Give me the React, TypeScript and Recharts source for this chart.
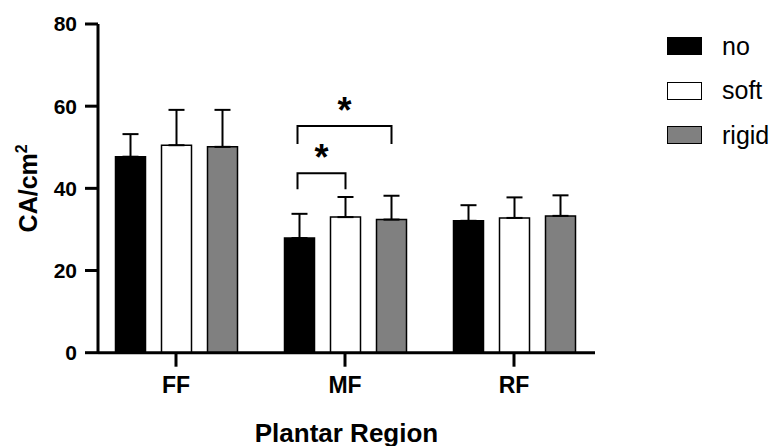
import {
  Bar,
  BarChart,
  ErrorBar,
  Label,
  LabelList,
  Legend,
  XAxis,
  YAxis,
} from 'recharts'

const regions = ['FF', 'MF', 'RF']
const noMeans = [47.7, 27.9, 32.1]
const noErrors = [5.5, 5.9, 3.8]
const softMeans = [50.5, 33.0, 32.8]
const softErrors = [8.6, 4.9, 5.0]
const rigidMeans = [50.1, 32.4, 33.3]
const rigidErrors = [9.0, 5.8, 5.0]
const yTicks = [0, 20, 40, 60, 80]

const series = [
  { key: 'no', fill: '#000000' },
  { key: 'soft', fill: '#ffffff' },
  { key: 'rigid', fill: '#808080' },
]

// significance brackets: group, the two bars joined, bar-end height and top height
const brackets = [
  { group: 'MF', from: 'no', to: 'soft', low: 39.8, high: 43.7 },
  { group: 'MF', from: 'no', to: 'rigid', low: 50.8, high: 55.2 },
]

const FONT = "Arial, 'Liberation Sans', Helvetica, sans-serif"
const BAR_SIZE = 30
const BAR_GAP = 16
const PAD = { left: -6.5, right: -3.5 }

const data = regions.map((region, i) => ({
  region,
  no: noMeans[i],
  soft: softMeans[i],
  rigid: rigidMeans[i],
  noErr: [0, noErrors[i]],
  softErr: [0, softErrors[i]],
  rigidErr: [0, rigidErrors[i]],
}))

// drawn as a label of the "no" bar: uses that bar's box for the y scale
function BracketMarks(props: any) {
  const vb = props.viewBox ?? props
  const value = Number(props.value)
  let index = props.index
  if (index == null) index = noMeans.indexOf(value)
  const mine = brackets.filter((b) => b.group === regions[index])
  if (!mine.length || !value) return null

  const unit = vb.height / value
  const base = vb.y + vb.height
  const toY = (v: number) => base - v * unit
  const cx0 = vb.x + vb.width / 2
  const toX = (key: string) => cx0 + series.findIndex((s) => s.key === key) * (BAR_SIZE + BAR_GAP)

  return (
    <g>
      {mine.map((b, i) => {
        const x1 = toX(b.from) - 2
        const x2 = toX(b.to)
        const yTop = toY(b.high)
        const yLow = toY(b.low)
        return (
          <g key={i}>
            <path
              d={`M${x1},${yLow}V${yTop}H${x2}V${yLow}`}
              fill="none"
              stroke="#000"
              strokeWidth={2}
            />
            <text
              x={(x1 + x2) / 2}
              y={toY(b.high + 5.3) + 18.5}
              textAnchor="middle"
              fontFamily={FONT}
              fontWeight="bold"
              fontSize={36}
              fill="#000"
            >
              *
            </text>
          </g>
        )
      })}
    </g>
  )
}

function YTitle(props: any) {
  const vb = props.viewBox || { x: 0, y: 24, height: 328 }
  const x = vb.x + 37
  const y = vb.y + vb.height / 2
  return (
    <text
      x={x}
      y={y}
      transform={`rotate(-90, ${x}, ${y})`}
      textAnchor="middle"
      fontFamily={FONT}
      fontWeight="bold"
      fontSize={25}
      fill="#000"
    >
      CA/cm
      <tspan fontSize={16} dy={-10}>
        2
      </tspan>
    </text>
  )
}

function LegendBox() {
  return (
    <div style={{ fontFamily: FONT, fontSize: 25, color: '#000' }}>
      {series.map((s) => (
        <div key={s.key} style={{ display: 'flex', alignItems: 'center', height: 44.5 }}>
          <div
            style={{
              width: 33,
              height: 16,
              background: s.fill,
              border: '1.5px solid #000',
              marginRight: 20,
            }}
          />
          <span>{s.key}</span>
        </div>
      ))}
    </div>
  )
}

export default function App() {
  return (
    <div style={{ position: 'absolute', left: 0, top: 0, background: '#fff' }}>
      <BarChart
        width={775}
        height={446}
        data={data}
        margin={{ top: 24, right: 180, left: 0, bottom: 0 }}
        barSize={BAR_SIZE}
        barGap={BAR_GAP}
      >
        <XAxis
          dataKey="region"
          height={93.3}
          padding={PAD}
          tickSize={14}
          tickMargin={10}
          axisLine={{ stroke: '#000', strokeWidth: 3 }}
          tickLine={{ stroke: '#000', strokeWidth: 3 }}
          tick={{ fill: '#000', fontSize: 23, fontWeight: 'bold', fontFamily: FONT }}
        >
          <Label
            value="Plantar Region"
            position="insideBottom"
            offset={4.5}
            fill="#000"
            fontSize={26}
            fontWeight="bold"
            fontFamily={FONT}
          />
        </XAxis>
        <YAxis
          domain={[0, 80]}
          ticks={yTicks}
          width={98}
          tickSize={13}
          tickMargin={8}
          axisLine={{ stroke: '#000', strokeWidth: 3 }}
          tickLine={{ stroke: '#000', strokeWidth: 3 }}
          tick={{ fill: '#000', fontSize: 21, fontWeight: 'bold', fontFamily: FONT }}
        >
          <Label content={YTitle} />
        </YAxis>
        <Legend
          layout="vertical"
          align="center"
          verticalAlign="middle"
          content={LegendBox}
          wrapperStyle={{ position: 'absolute', left: 667, top: 23.75, width: 108 }}
        />
        {series.map((s) => (
          <Bar
            key={s.key}
            dataKey={s.key}
            fill={s.fill}
            stroke="#000"
            strokeWidth={1.5}
            isAnimationActive={false}
          >
            <ErrorBar
              dataKey={`${s.key}Err`}
              direction="y"
              width={8}
              stroke="#000"
              strokeWidth={2}
              isAnimationActive={false}
            />
            {s.key === 'no' && <LabelList dataKey="no" content={BracketMarks} />}
          </Bar>
        ))}
      </BarChart>
    </div>
  )
}
